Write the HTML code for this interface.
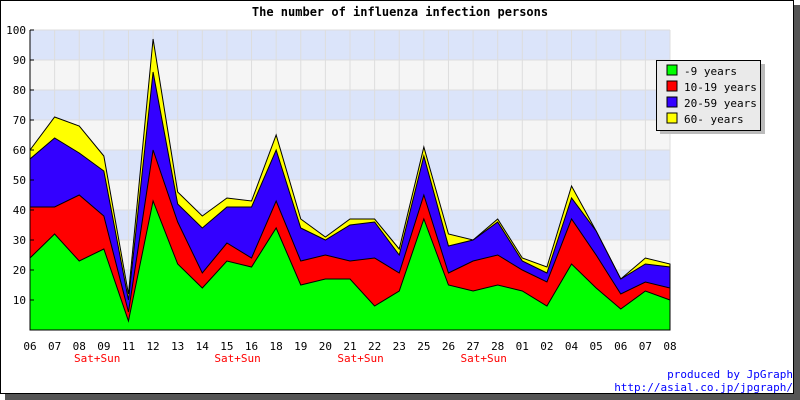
<!DOCTYPE html>
<html><head><meta charset="utf-8"><style>
body{margin:0;background:#fff;}
svg{display:block;font-family:"DejaVu Sans Mono","Liberation Mono",monospace;}
</style></head><body>
<svg id="c" width="800" height="400" viewBox="0 0 800 400" xmlns="http://www.w3.org/2000/svg">
<rect x="5" y="5" width="795" height="395" fill="#555"/>
<rect x="0.5" y="0.5" width="793" height="393" fill="#fff" stroke="#000"/>
<text x="400" y="16" text-anchor="middle" font-size="12" font-weight="bold">The number of influenza infection persons</text>
<g id="bands"></g><g id="grid"></g><g id="areas"></g><g id="axes"></g>
<g>
<rect x="660" y="64" width="105" height="70" fill="#bbb"/>
<rect x="656.5" y="60.5" width="104" height="70" fill="#eaeaea" stroke="#000"/>
<rect x="667" y="65" width="10" height="10" fill="#00ff00" stroke="#000"/>
<text x="684" y="75" font-size="11">-9 years</text>
<rect x="667" y="81" width="10" height="10" fill="#ff0000" stroke="#000"/>
<text x="684" y="91" font-size="11">10-19 years</text>
<rect x="667" y="97" width="10" height="10" fill="#3300ff" stroke="#000"/>
<text x="684" y="107" font-size="11">20-59 years</text>
<rect x="667" y="113" width="10" height="10" fill="#ffff00" stroke="#000"/>
<text x="684" y="123" font-size="11">60- years</text>
</g>
<text x="793" y="378" text-anchor="end" font-size="11" fill="#0000ff">produced by JpGraph</text>
<text x="793" y="391" text-anchor="end" font-size="11" fill="#0000ff">http://asial.co.jp/jpgraph/</text>
</svg>
<script>
const categories=["06","07","08","09","11","12","13","14","15","16","18","19","20","21","22","23","25","26","27","28","01","02","04","05","06","07","08"];
const age0to9=[24,32,23,27,3,43,22,14,23,21,34,15,17,17,8,13,37,15,13,15,13,8,22,14,7,13,10];
const age10to19=[17,9,22,11,3,17,14,5,6,3,9,8,8,6,16,6,8,4,10,10,7,8,15,11,5,3,4];
const age20to59=[16,23,14,15,4,26,6,15,12,17,17,11,5,12,12,6,13,9,7,11,3,3,7,8,5,6,7];
const age60plus=[3,7,9,5,2,11,4,4,3,2,5,3,1,2,1,2,3,4,0,1,1,2,4,0,0,2,1];
const yTicks=[10,20,30,40,50,60,70,80,90,100];
const weekendLabels=[{after:2,text:"Sat+Sun"},{after:7.7,text:"Sat+Sun"},{after:12.7,text:"Sat+Sun"},{after:17.7,text:"Sat+Sun"}];
const NS="http://www.w3.org/2000/svg";
const X0=30,X1=670,Y0=330,YT=30,YMAX=100;
const xs=i=>X0+(X1-X0)*i/(categories.length-1);
const ys=v=>Y0-(Y0-YT)*v/YMAX;
function mk(tag,attrs,parent){const e=document.createElementNS(NS,tag);for(const k in attrs)e.setAttribute(k,attrs[k]);document.getElementById(parent).appendChild(e);return e;}
for(let b=0;b<10;b++){
 const r=mk('rect',{x:X0,y:ys(b*10+10),width:X1-X0,height:ys(0)-ys(10),fill:b%2?'#dbe4fa':'#f5f5f5'},'bands');
 
 
}
yTicks.forEach(t=>{const l=mk('line',{x1:X0,x2:X1,y1:ys(t),y2:ys(t),stroke:'#ddd'},'grid');
 
 });
categories.forEach((c,i)=>{const l=mk('line',{x1:xs(i),x2:xs(i),y1:YT,y2:Y0,stroke:'#ddd'},'grid');
 
 });
const series=[[age0to9,'#00ff00','area-0-9'],[age10to19,'#ff0000','area-10-19'],[age20to59,'#3300ff','area-20-59'],[age60plus,'#ffff00','area-60']];
let base=categories.map(()=>0);
const tops=[];
series.forEach(s=>{const top=base.map((b,i)=>b+s[0][i]);tops.push([base,top,s]);base=top;});
tops.reverse().forEach(([b,top,s])=>{
 let d='M'+xs(0)+','+ys(0);
 top.forEach((v,i)=>d+=' L'+xs(i)+','+ys(v));
 d+=' L'+xs(top.length-1)+','+ys(0)+' Z';
 const p=mk('path',{d:d,fill:s[1],stroke:'#000','stroke-width':1},'areas');
 
 
});
const ax=mk('path',{d:`M${X0},${YT} L${X0},${Y0} L${X1},${Y0}`,fill:'none',stroke:'#000'},'axes');


yTicks.forEach(t=>{
 const tk=mk('line',{x1:X0,x2:X0+4,y1:ys(t),y2:ys(t),stroke:'#000'},'axes');
 
 
 const tx=mk('text',{x:X0-4,y:ys(t)+4,'text-anchor':'end','font-size':11},'axes');tx.textContent=t;
 
 
});
categories.forEach((c,i)=>{
 const tx=mk('text',{x:xs(i),y:350,'text-anchor':'middle','font-size':11},'axes');tx.textContent=c;
 
 
});
weekendLabels.forEach(w=>{
 const tx=mk('text',{x:xs(w.after)+18,y:362,'text-anchor':'middle','font-size':11,fill:'#ff0000'},'axes');tx.textContent=w.text;
 
 
});
</script>
</body></html>
